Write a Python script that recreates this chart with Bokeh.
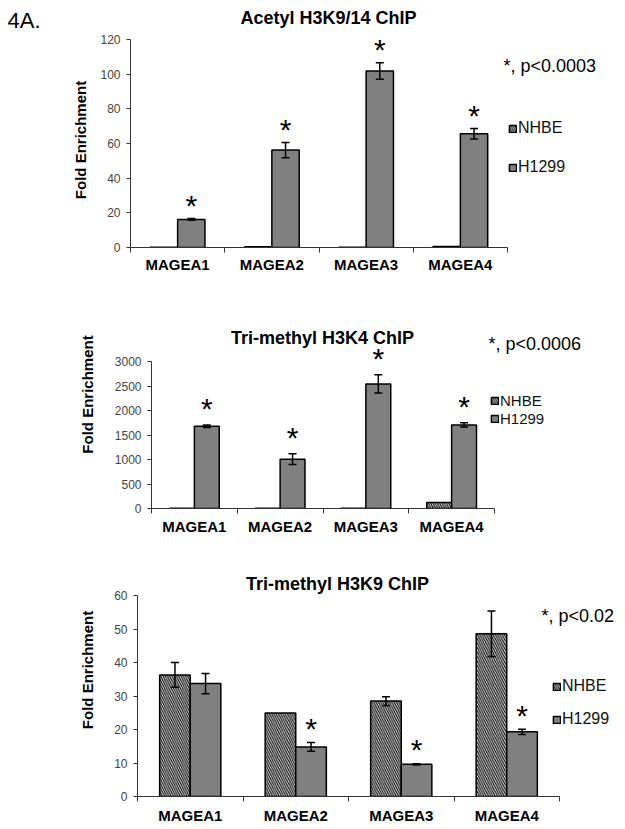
import numpy as np
from bokeh.plotting import figure
from bokeh.models import (ColumnDataSource, Range1d, FixedTicker, CustomJSTickFormatter,
                          Whisker, TeeHead, Label, Legend, LegendItem)
from bokeh.layouts import column
from bokeh.embed import file_html
from bokeh.resources import INLINE
from bokeh.core.properties import value

# ---------------- data ----------------
genes = ["MAGEA1", "MAGEA2", "MAGEA3", "MAGEA4"]
series = ["NHBE", "H1299"]

ac_title = "Acetyl H3K9/14 ChIP"
ac_pval = "*, p<0.0003"
ac_nhbe = [0.2, 0.5, 0.2, 0.6]
ac_nhbe_err = [0, 0, 0, 0]
ac_h1299 = [16.2, 56.2, 101.8, 65.6]
ac_h1299_err = [0.5, 4.4, 4.8, 3.0]
ac_sig = [1, 1, 1, 1]
ac_ticks = [0, 20, 40, 60, 80, 100, 120]

k4_title = "Tri-methyl H3K4 ChIP"
k4_pval = "*, p<0.0006"
k4_nhbe = [5, 6, 5, 120]
k4_nhbe_err = [0, 0, 0, 0]
k4_h1299 = [1680, 1006, 2543, 1706]
k4_h1299_err = [25, 110, 185, 45]
k4_sig = [1, 1, 1, 1]
k4_ticks = [0, 500, 1000, 1500, 2000, 2500, 3000]

k9_title = "Tri-methyl H3K9 ChIP"
k9_pval = "*, p<0.02"
k9_nhbe = [36.3, 24.9, 28.5, 48.6]
k9_nhbe_err = [3.7, 0, 1.3, 6.8]
k9_h1299 = [33.7, 14.8, 9.6, 19.3]
k9_h1299_err = [3.0, 1.3, 0.2, 0.8]
k9_sig = [0, 1, 1, 1]
k9_ticks = [0, 10, 20, 30, 40, 50, 60]

y_label = "Fold Enrichment"
panel_tag = "4A."

FONT = "Liberation Sans"
BW = 0.29
W = 625          # figure width
PAGE_OFF = 0     # observed offset of the layout on the page


def make_chart(title, pval, nhbe, nhbe_err, h1299, h1299_err, sig, ticks,
               fig_top, fig_h, L, R, T, B, lab_standoff, x_standoff,
               title_pos, pval_pos, legend_pos, legend_spacing, legend_font,
               star_off):
    """fig_top, L, R, T, B are page pixel positions of the figure top, the plot
    area left/right (category span) and top tick/bottom (zero) level."""
    ncat = len(genes)
    fig_right = PAGE_OFF + W
    frame_top = fig_top
    x_end = ncat * (fig_right - L) / (R - L)
    y_end = ticks[-1] * (B - frame_top) / (B - T)
    centers = np.arange(ncat) + 0.5

    p = figure(width=W, height=fig_h, output_backend="svg", toolbar_location=None,
               x_range=Range1d(0, x_end), y_range=Range1d(0, y_end),
               min_border_left=int(round(L - PAGE_OFF)), min_border_right=0,
               min_border_top=0,
               min_border_bottom=int(round(fig_top + fig_h - B)),
               frame_align=False)
    p.title.visible = False
    p.outline_line_color = None
    p.xgrid.visible = False
    p.ygrid.visible = False

    src_n = ColumnDataSource(dict(x=centers - BW / 2, top=nhbe))
    src_h = ColumnDataSource(dict(x=centers + BW / 2, top=h1299))

    rn = p.vbar(x="x", top="top", width=BW, bottom=0, source=src_n,
                fill_color="white", line_color="black", line_width=1.5,
                hatch_pattern="left_diagonal_line", hatch_color="#1a1a1a",
                hatch_scale=4.5, hatch_weight=1.3)
    rh = p.vbar(x="x", top="top", width=BW, bottom=0, source=src_h,
                fill_color="#808080", line_color="black", line_width=1.5)

    for xs, tops, errs in ((centers - BW / 2, nhbe, nhbe_err),
                           (centers + BW / 2, h1299, h1299_err)):
        keep = [i for i, e in enumerate(errs) if e > 0]
        if not keep:
            continue
        ws = ColumnDataSource(dict(x=[xs[i] for i in keep],
                                   upper=[tops[i] + errs[i] for i in keep],
                                   lower=[tops[i] - errs[i] for i in keep]))
        p.add_layout(Whisker(base="x", upper="upper", lower="lower", source=ws,
                             level="overlay",
                             line_color="black", line_width=1.5,
                             upper_head=TeeHead(size=8, line_width=1.5, line_color="black"),
                             lower_head=TeeHead(size=8, line_width=1.5, line_color="black")))

    ks = [i for i, s in enumerate(sig) if s]
    star_src = ColumnDataSource(dict(x=[centers[i] + BW / 2 for i in ks],
                                     y=[h1299[i] + h1299_err[i] for i in ks],
                                     t=["*"] * len(ks)))
    p.text(x="x", y="y", text="t", source=star_src, text_align="center",
           text_baseline="alphabetic", y_offset=star_off, text_font=value(FONT),
           text_font_size="30px", text_color="black")

    # x axis: category labels centred, tick marks at category boundaries
    p.xaxis.bounds = (0, ncat)
    p.xaxis.ticker = FixedTicker(ticks=list(centers), minor_ticks=list(range(ncat + 1)))
    p.xaxis.formatter = CustomJSTickFormatter(args=dict(labels=genes),
                                              code="return labels[Math.floor(tick)] || '';")
    p.xaxis.major_tick_line_color = None
    p.xaxis.major_tick_out = 0
    p.xaxis.major_tick_in = 0
    p.xaxis.minor_tick_out = 5
    p.xaxis.minor_tick_in = 0
    p.xaxis.minor_tick_line_color = "#333333"
    p.xaxis.major_label_text_font = FONT
    p.xaxis.major_label_text_font_style = "bold"
    p.xaxis.major_label_text_font_size = "15px"
    p.xaxis.major_label_text_color = "black"
    p.xaxis.major_label_standoff = x_standoff
    p.xaxis.axis_line_color = "#333333"

    p.yaxis.bounds = (0, ticks[-1])
    p.yaxis.ticker = FixedTicker(ticks=ticks)
    p.yaxis.minor_tick_line_color = None
    p.yaxis.major_tick_out = 4
    p.yaxis.major_tick_in = 0
    p.yaxis.major_tick_line_color = "#333333"
    p.yaxis.axis_line_color = "#333333"
    p.yaxis.major_label_text_font = FONT
    p.yaxis.major_label_text_font_size = "12px"
    p.yaxis.major_label_text_color = "#444444"
    p.yaxis.major_label_standoff = 6
    p.yaxis.axis_label = y_label
    p.yaxis.axis_label_text_font = FONT
    p.yaxis.axis_label_text_font_style = "bold"
    p.yaxis.axis_label_text_font_size = "15px"
    p.yaxis.axis_label_text_color = "black"
    p.yaxis.axis_label_standoff = lab_standoff

    def fx(px):
        return px - L

    def fy(py):
        return B - py

    if title is not None:
        p.add_layout(Label(x=fx(title_pos[0]), y=fy(title_pos[1]), x_units="screen",
                           y_units="screen", text=title, text_align="center",
                           text_baseline="middle", text_font=FONT, text_font_style="bold",
                           text_font_size="18px", text_color="black"))
    p.add_layout(Label(x=fx(pval_pos[0]), y=fy(pval_pos[1]), x_units="screen", y_units="screen",
                       text=pval, text_align="left", text_baseline="middle",
                       text_font=FONT, text_font_size="18px", text_color="black"))

    legend = Legend(items=[LegendItem(label=series[0], renderers=[rn]),
                           LegendItem(label=series[1], renderers=[rh])],
                    location=(fx(legend_pos[0]), fy(legend_pos[1])), orientation="vertical",
                    glyph_width=9, glyph_height=9, label_standoff=1,
                    spacing=legend_spacing, padding=0, margin=0,
                    label_height=18, border_line_color=None,
                    background_fill_alpha=0, label_text_font=FONT,
                    label_text_font_size=legend_font, label_text_color="#111111")
    p.add_layout(legend)
    return p


# header row with the panel tag and first title (page y 0..32)
HEAD_H = 32
head = figure(width=W, height=HEAD_H, output_backend="svg", toolbar_location=None,
              x_axis_type=None, y_axis_type=None, x_range=Range1d(0, 1), y_range=Range1d(0, 1),
              min_border=0, frame_align=False)
head.title.visible = False
head.outline_line_color = None
head.grid.visible = False
head.add_layout(Label(x=7 - PAGE_OFF, y=HEAD_H - (20 - PAGE_OFF), x_units="screen", y_units="screen",
                      text=panel_tag, text_align="left", text_baseline="middle", text_font=FONT,
                      text_font_size="22px", text_color="black"))
head.add_layout(Label(x=328 - PAGE_OFF, y=HEAD_H - (17 - PAGE_OFF), x_units="screen", y_units="screen",
                      text=ac_title, text_align="center", text_baseline="middle",
                      text_font=FONT, text_font_style="bold", text_font_size="18px",
                      text_color="black"))

f1 = make_chart(None, ac_pval, ac_nhbe, ac_nhbe_err, ac_h1299, ac_h1299_err, ac_sig, ac_ticks,
                fig_top=32, fig_h=248, L=130, R=507, T=39, B=247, lab_standoff=8, x_standoff=3,
                title_pos=None, pval_pos=(503, 65), legend_pos=(508, 176),
                legend_spacing=21, legend_font="16px", star_off=-13)
f2 = make_chart(k4_title, k4_pval, k4_nhbe, k4_nhbe_err, k4_h1299, k4_h1299_err, k4_sig, k4_ticks,
                fig_top=280, fig_h=263, L=151, R=494, T=361, B=508, lab_standoff=16, x_standoff=4,
                title_pos=(322, 337), pval_pos=(488, 343), legend_pos=(490, 427),
                legend_spacing=0, legend_font="15px", star_off=-16)
f3 = make_chart(k9_title, k9_pval, k9_nhbe, k9_nhbe_err, k9_h1299, k9_h1299_err, k9_sig, k9_ticks,
                fig_top=543, fig_h=285, L=137, R=559, T=595, B=796, lab_standoff=15, x_standoff=5,
                title_pos=(337, 583), pval_pos=(541, 615), legend_pos=(552, 728),
                legend_spacing=15, legend_font="16px", star_off=-14)

layout = column(head, f1, f2, f3)
open("out.html", "w").write(file_html(layout, INLINE))
